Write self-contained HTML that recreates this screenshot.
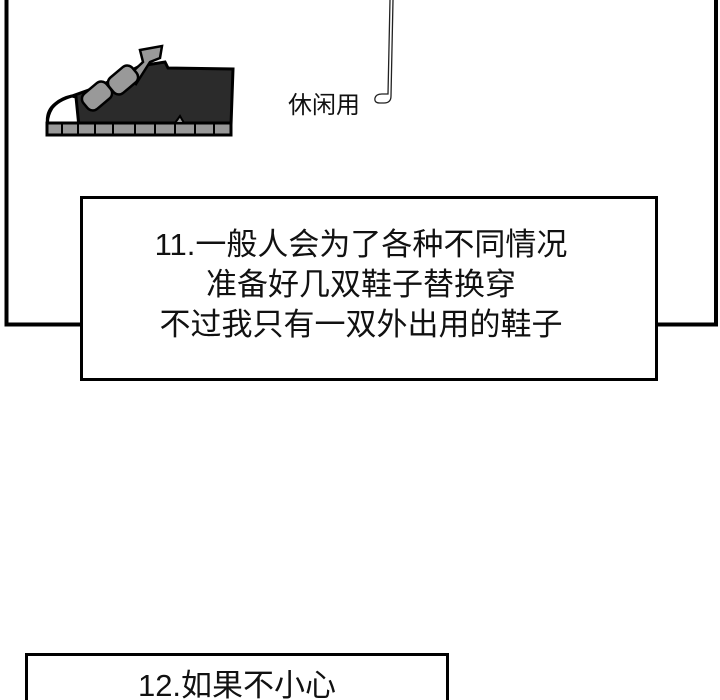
<!DOCTYPE html>
<html><head><meta charset="utf-8"><style>
html,body{margin:0;padding:0;background:#fff;width:720px;height:700px;overflow:hidden;position:relative;font-family:"Liberation Sans","Noto Sans CJK SC",sans-serif}
.cap{position:absolute;left:80px;top:196px;width:572px;height:179px;border:3px solid #000;background:#fff;text-align:center;font-size:31px;line-height:40px;color:#111}
.cap div{padding-top:26px;padding-right:16px}
.b2{position:absolute;left:25px;top:653px;width:418px;height:60px;border:3px solid #000;background:#fff;text-align:center;font-size:31px;line-height:40px;color:#111}
</style></head><body>
<svg width="720" height="700" style="position:absolute;left:0;top:0">
<polyline points="6.5,0 6.5,324.5 82,324.5" fill="none" stroke="#000" stroke-width="4"/>
<polyline points="654,324.5 716,324.5 716,0" fill="none" stroke="#000" stroke-width="4"/>
<path d="M393,0 L391,96 Q391,103 384,103 L380,103 Q374,103 375,98 Q376,94 382,94 L388,94 L390,0" fill="none" stroke="#222" stroke-width="1.3"/>
<text x="288" y="113" font-size="24" font-family="Noto Sans CJK SC" fill="#111">休闲用</text>
<path d="M72,96 L100,86 L140,66 L165,62 L168,68 L233,69 L231,125 L48,127 Q45,112 55,104 Q62,98 72,96Z" fill="#2b2b2b" stroke="#000" stroke-width="3"/>
<path d="M72,96 Q58,100 52,108 Q46,118 48,127 L79,127 L76,97Z" fill="#fff" stroke="#000" stroke-width="3"/>
<path d="M128,76 L143,62 L140,50 L162,46 L160,58 L150,62 L136,84Z" fill="#999" stroke="#000" stroke-width="2.5"/>
<rect x="108" y="70" width="30" height="20" rx="7" transform="rotate(-40 123 80)" fill="#999" stroke="#000" stroke-width="2.5"/>
<rect x="82" y="86" width="30" height="20" rx="7" transform="rotate(-40 97 96)" fill="#999" stroke="#000" stroke-width="2.5"/>
<rect x="47" y="123" width="184" height="12" fill="#999" stroke="#000" stroke-width="3"/>
<path d="M175,123 L180,116 L184,123Z" fill="#999" stroke="#000" stroke-width="2"/>
<g stroke="#000" stroke-width="2"><line x1="62" y1="123" x2="62" y2="135"/><line x1="78" y1="123" x2="78" y2="135"/><line x1="95" y1="123" x2="95" y2="135"/><line x1="113" y1="123" x2="113" y2="135"/><line x1="135" y1="123" x2="135" y2="135"/><line x1="155" y1="123" x2="155" y2="135"/><line x1="175" y1="123" x2="175" y2="135"/><line x1="195" y1="123" x2="195" y2="135"/><line x1="214" y1="123" x2="214" y2="135"/></g>
</svg>
<div class="cap"><div>11.一般人会为了各种不同情况<br>准备好几双鞋子替换穿<br>不过我只有一双外出用的鞋子</div></div>
<div class="b2"><div style="padding-top:10px">12.如果不小心</div></div>
</body></html>
